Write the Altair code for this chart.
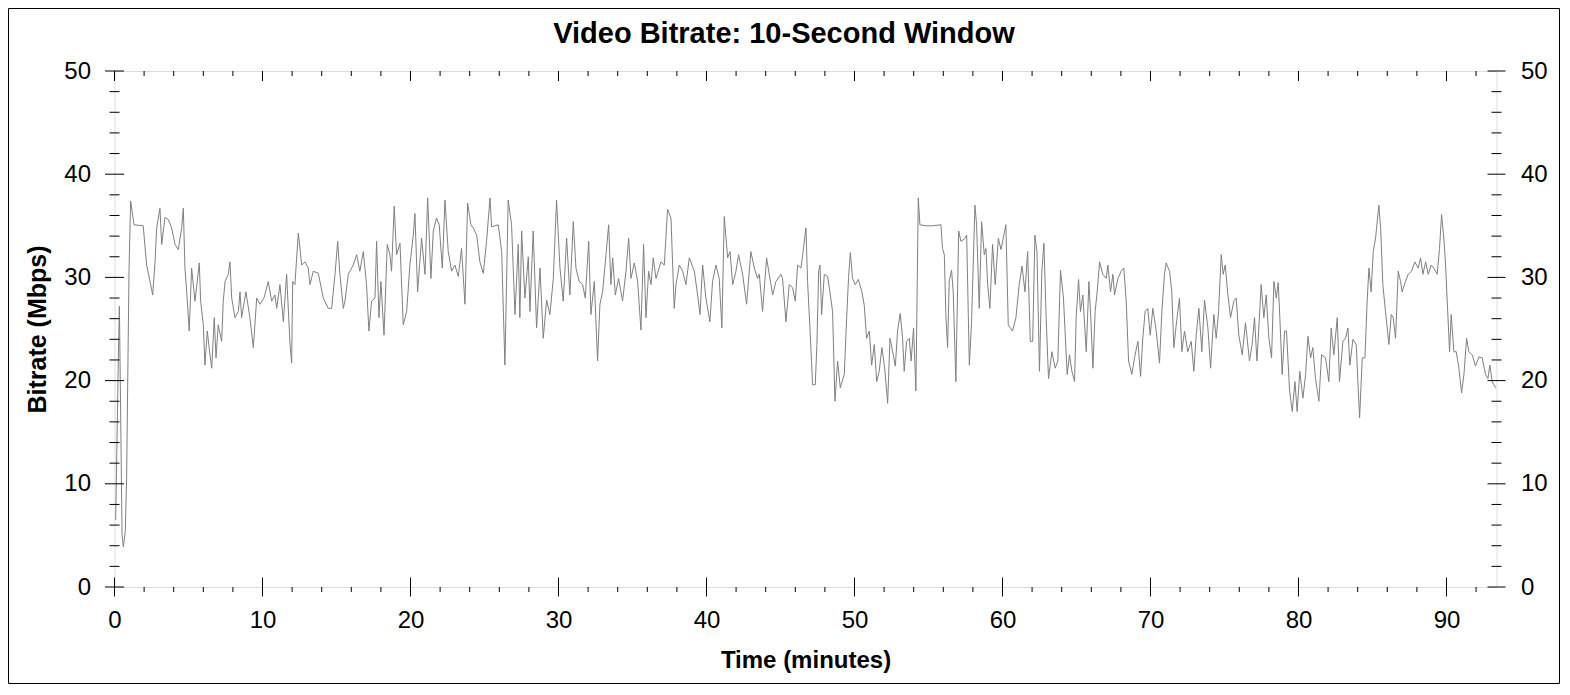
import altair as alt
import pandas as pd

# ---- data (time in minutes, bitrate in Mbps) ----
times = [
    0.08, 0.26, 0.33, 0.42, 0.51, 0.6, 0.73, 0.82, 0.89, 0.98, 1.09, 1.32, 1.94, 2.17, 2.4, 2.58,
    2.74, 2.85, 3.07, 3.19, 3.41, 3.64, 3.86, 4.09, 4.31, 4.54, 4.65, 4.76, 4.88, 5.05, 5.21, 5.44,
    5.73, 5.82, 6.0, 6.11, 6.27, 6.45, 6.57, 6.74, 6.86, 7.01, 7.24, 7.35, 7.47, 7.69, 7.8, 7.92,
    8.14, 8.37, 8.48, 8.59, 8.88, 9.15, 9.38, 9.61, 9.83, 10.1, 10.39, 10.62, 10.84, 10.96, 11.18,
    11.41, 11.63, 11.86, 11.97, 12.04, 12.19, 12.42, 12.65, 12.87, 13.09, 13.21, 13.43, 13.77,
    14.11, 14.45, 14.67, 14.9, 15.08, 15.23, 15.46,
    15.57, 15.8, 16.13, 16.36, 16.58, 16.81, 17.03, 17.19, 17.37, 17.6, 17.71, 17.87, 18.0, 18.21,
    18.43, 18.61, 18.72, 18.9, 19.06, 19.29, 19.51, 19.74, 19.96, 20.19, 20.3, 20.48, 20.75, 20.98,
    21.16, 21.38, 21.54, 21.76, 21.94, 22.15, 22.33, 22.55, 22.78, 23.0, 23.23, 23.45, 23.68, 23.86,
    24.08, 24.24, 24.47, 24.69, 24.92, 25.14, 25.37, 25.48, 25.93, 26.16, 26.38, 26.6, 26.83, 27.06,
    27.28, 27.39, 27.51, 27.73, 27.96, 28.07, 28.29, 28.52, 28.75, 28.97, 29.2, 29.42, 29.65, 29.87,
    30.1, 30.32, 30.55, 30.77, 31.0,
    31.18, 31.4, 31.63, 31.81, 32.04, 32.19, 32.42, 32.64, 32.8, 32.98, 33.21, 33.39, 33.54, 33.66,
    33.84, 34.06, 34.33, 34.56, 34.74, 34.9, 35.12, 35.35, 35.57, 35.75, 35.91, 36.09, 36.25, 36.4,
    36.59, 36.92, 37.15, 37.37, 37.6, 37.82, 37.94, 38.16, 38.39, 38.61, 38.84, 39.18, 39.4, 39.56,
    39.74, 39.96, 40.23, 40.41, 40.64, 40.86, 41.04, 41.2, 41.43, 41.59, 41.77, 41.99, 42.17, 42.44,
    42.71, 43.0, 43.23, 43.45, 43.57, 43.79, 44.06, 44.24, 44.47, 44.69, 45.03, 45.14, 45.37, 45.59,
    45.82, 46.0, 46.16, 46.38, 46.5, 46.72,
    46.83, 46.99, 47.17, 47.35, 47.46, 47.58, 47.67, 47.78, 47.96, 48.18, 48.34, 48.52, 48.68, 48.86,
    49.04, 49.31, 49.47, 49.6, 49.72, 49.87, 50.05, 50.26, 50.5, 50.66, 50.82, 51.0, 51.16, 51.34,
    51.5, 51.67, 51.85, 52.04, 52.24, 52.4, 52.58, 52.76, 52.91, 53.09, 53.25, 53.36, 53.52, 53.7,
    53.83, 53.99, 54.15, 54.31, 54.42, 54.83, 55.28, 55.84, 55.95, 56.07, 56.18, 56.29, 56.4, 56.56,
    56.67, 56.85, 57.04, 57.19, 57.42, 57.58, 57.76, 57.91, 58.14, 58.25, 58.43, 58.59, 58.77, 58.88,
    59.0, 59.15, 59.33, 59.51, 59.72, 59.9, 60.23, 60.39, 60.68, 60.91, 61.13, 61.32, 61.52, 61.7,
    61.88, 62.04, 62.19, 62.33,
    62.5, 62.66, 62.8, 62.95, 63.11, 63.34, 63.56, 63.74, 63.92, 64.12, 64.37, 64.53, 64.69, 64.87,
    64.98, 65.14, 65.27, 65.43, 65.66, 65.84, 65.99, 66.11, 66.26, 66.4, 66.56, 66.78, 67.01, 67.12,
    67.3, 67.46, 67.57, 67.8, 68.02, 68.2, 68.36, 68.52, 68.74, 68.92, 69.15, 69.33, 69.48, 69.64,
    69.82, 69.98, 70.16, 70.39, 70.61, 70.77, 70.95, 71.06, 71.29, 71.44, 71.58, 71.74, 71.96, 72.12,
    72.3, 72.52, 72.75, 72.93, 73.09, 73.27, 73.47, 73.65, 73.88, 74.06, 74.28, 74.44, 74.6, 74.78,
    74.91, 75.05, 75.23, 75.41, 75.63, 75.79, 75.97, 76.2, 76.42, 76.69, 76.87, 77.03, 77.19, 77.32,
    77.48, 77.66, 77.82, 78.0,
    78.18, 78.34, 78.5, 78.63, 78.74, 78.9, 79.06, 79.19, 79.4, 79.58, 79.76, 79.91, 80.09, 80.3,
    80.48, 80.64, 80.82, 80.97, 81.15, 81.38, 81.56, 81.83, 82.05, 82.21, 82.39, 82.62, 82.77, 83.0,
    83.18, 83.34, 83.47, 83.68, 83.9, 84.13, 84.31, 84.49, 84.64, 84.76, 84.91, 85.05, 85.21, 85.43,
    85.55, 85.7, 85.88, 86.11, 86.27, 86.4, 86.56, 86.74, 86.9, 87.0, 87.23, 87.41, 87.64, 87.86,
    88.09, 88.25, 88.41, 88.59, 88.77, 88.97, 89.15, 89.37, 89.53, 89.67, 89.82, 89.94, 90.05, 90.21,
    90.32, 90.5, 90.66, 90.84, 91.02, 91.18, 91.36, 91.51, 91.74, 91.96, 92.19, 92.41, 92.64, 92.8,
    92.93, 93.09, 93.32,
]

bitrate = [
    6.5, 22.2, 27.2, 16.4, 5.1, 3.9, 5.4, 10.6, 19.6, 30.6, 37.4, 35.1, 35.0, 31.2, 29.6, 28.3,
    31.5, 34.8, 36.7, 33.2, 35.8, 35.6, 34.8, 33.2, 32.7, 34.8, 36.7, 30.9, 28.6, 24.8, 30.9, 27.7,
    31.4, 27.7, 25.4, 21.5, 24.8, 22.5, 21.2, 26.1, 22.2, 25.4, 23.8, 27.7, 29.6, 30.3, 31.5, 28.0,
    26.1, 26.7, 28.6, 26.1, 28.6, 26.1, 23.2, 28.0, 27.4, 28.0, 29.6, 27.7, 28.3, 27.0, 29.3,
    25.7, 30.3, 23.5, 21.7, 29.6, 29.3, 34.3, 31.2, 31.5, 30.9, 29.3, 30.6, 30.4,
    28.0, 27.0, 27.0, 30.3, 33.5, 30.3, 27.0,
    27.7, 30.3, 31.2, 32.2, 30.6, 32.5, 29.3, 24.8, 27.7, 28.0, 33.5, 26.1, 29.6, 24.4,
    33.2, 32.2, 30.6, 36.9, 32.2, 33.3, 25.4, 26.7, 31.2, 34.1, 36.2, 28.6, 33.8, 30.3,
    37.7, 29.9, 34.5, 35.75, 35.1, 30.9, 37.5, 32.5, 30.6, 31.2, 30.1, 32.8, 27.4, 37.2,
    35.1, 34.8, 34.1, 31.5, 30.4, 33.5, 37.7, 34.9, 35.1, 32.5, 21.5, 37.5, 35.1, 26.4,
    33.2, 26.1, 34.5, 28.0, 32.0, 26.7, 34.5, 25.1, 30.9, 24.1, 27.8, 26.4, 29.9, 37.5,
    30.9, 27.7, 33.8, 28.3, 35.4,
    30.9, 29.6, 29.3, 28.0, 33.5, 26.4, 29.6, 21.9, 27.4, 28.6, 32.2, 35.1, 29.3, 31.9,
    28.3, 29.9, 27.7, 30.6, 33.8, 29.9, 31.4, 29.6, 24.9, 33.2, 26.1, 30.6, 29.3, 31.9,
    29.9, 31.5, 31.2, 36.6, 35.75, 27.0, 29.3, 31.2, 30.6, 29.3, 31.9, 30.6, 28.3, 26.4,
    31.2, 28.0, 25.7, 29.6, 31.2, 29.9, 25.1, 35.9, 31.9, 32.5, 29.3, 30.6, 32.2, 30.3,
    27.4, 32.5, 30.9, 29.9, 30.3, 26.7, 31.9, 30.3, 28.3, 29.6, 30.3, 29.9, 25.7, 29.3,
    29.0, 27.7, 31.2, 30.9, 32.2, 34.8,
    29.6, 25.1, 19.6, 19.6, 23.5, 30.6, 31.2, 26.4, 30.3, 30.1, 28.6, 26.7, 18.0, 21.9,
    19.3, 20.6, 26.1, 30.0, 32.4, 29.9, 29.3, 29.8, 28.6, 27.3, 24.1, 24.8, 21.5, 23.5,
    19.9, 20.9, 23.2, 21.2, 17.8, 24.1, 22.8, 21.4, 24.8, 26.5, 24.1, 20.9, 23.8, 24.1,
    21.9, 25.1, 19.0, 37.7, 35.1, 35.0, 35.0, 35.1, 32.8, 32.2, 26.1, 23.2, 29.6, 30.7,
    28.6, 19.9, 34.5, 33.5, 33.7, 34.1, 21.5, 25.7, 37.0, 35.1, 27.0, 35.4, 32.2, 32.8,
    29.3, 27.0, 33.2, 29.3, 33.8, 32.7, 35.1, 25.4, 24.8, 26.1, 29.3, 31.1, 28.6, 32.5,
    23.8, 23.8, 34.1, 32.5,
    20.9, 30.6, 33.3, 26.1, 20.2, 22.8, 21.2, 21.9, 30.7, 28.0, 20.6, 22.5, 20.9, 19.9,
    26.1, 29.8, 26.7, 28.3, 22.8, 29.6, 25.4, 21.2, 26.7, 28.6, 31.5, 30.3, 29.9, 31.2,
    28.6, 30.3, 28.3, 29.9, 30.6, 30.9, 27.7, 21.9, 20.6, 22.2, 23.8, 20.4, 24.1, 26.7,
    27.0, 24.4, 27.0, 24.8, 21.7, 26.7, 30.4, 31.4, 30.6, 28.6, 23.2, 25.4, 28.0, 22.8,
    24.8, 22.8, 23.8, 20.9, 24.4, 27.0, 22.8, 27.8, 25.1, 21.2, 26.4, 24.1, 26.7, 32.2,
    30.3, 31.2, 28.3, 26.1, 27.7, 28.0, 24.4, 22.5, 25.6, 21.9, 23.5, 26.1, 21.9, 25.1,
    29.3, 26.1, 28.3, 24.1,
    22.2, 29.6, 28.0, 29.5, 26.1, 20.6, 24.8, 24.8, 19.0, 17.0, 19.9, 17.0, 20.9, 18.3,
    20.6, 24.3, 22.2, 23.2, 20.2, 18.0, 22.5, 22.2, 19.9, 25.1, 22.5, 26.1, 19.9, 23.8,
    24.1, 25.1, 21.5, 24.0, 23.5, 16.4, 22.2, 22.2, 27.7, 30.9, 28.6, 32.5, 33.8, 37.0,
    34.8, 29.3, 26.7, 23.5, 26.4, 26.1, 24.1, 30.6, 29.6, 28.6, 29.6, 30.3, 30.6, 31.5,
    30.9, 31.9, 30.3, 31.5, 30.3, 31.2, 30.9, 30.3, 32.8, 36.1, 33.8, 31.2, 27.7, 22.8,
    26.4, 22.8, 22.8, 21.2, 18.8, 20.6, 24.1, 22.8, 22.5, 21.4, 22.3, 22.2, 20.6, 20.2,
    21.5, 19.9, 19.3,
]

title_text = "Video Bitrate: 10-Second Window"
x_title = "Time (minutes)"
y_title = "Bitrate (Mbps)"
x_major = [0, 10, 20, 30, 40, 50, 60, 70, 80, 90]
x_minor = [m for m in range(2, 93, 2) if m % 10 != 0]
y_major = [0, 10, 20, 30, 40, 50]
y_minor = [m for m in range(2, 50, 2) if m % 10 != 0]

FONT = "Liberation Sans"
W, H = 1382, 516
PAD_L, PAD_T, PAD_R, PAD_B = 106.5, 63, 63.5, 97

df = pd.DataFrame({"t": times, "v": bitrate})
xs = alt.Scale(domain=[0, 93.38], nice=False, zero=False)
ys = alt.Scale(domain=[0, 50], nice=False, zero=False)

line = alt.Chart(df).mark_line(color="#808080", strokeWidth=1).encode(
    x=alt.X("t:Q", scale=xs, axis=alt.Axis(
        values=x_major, title=x_title, ticks=False, tickSize=0, domain=False,
        grid=False, labelFontSize=24, labelFont=FONT, labelColor="black", labelPadding=21,
        labelFlush=False, labelOverlap=False,
        titleFont=FONT, titleFontSize=24, titleFontWeight="bold", titleColor="black",
        titleX=W / 2, titleY=80, titleBaseline="alphabetic")),
    y=alt.Y("v:Q", scale=ys, axis=alt.Axis(
        values=y_major, title=y_title, ticks=False, tickSize=0, domain=False,
        grid=False, labelFontSize=24, labelFont=FONT, labelColor="black", labelPadding=24,
        titleFont=FONT, titleFontSize=25, titleFontWeight="bold", titleColor="black",
        titleX=-69.5, titleY=H / 2, titleBaseline="alphabetic", titleAngle=270,
        titleAlign="center")),
)

xmaj = pd.DataFrame({"t": x_major})
xmin = pd.DataFrame({"t": x_minor})
ymaj = pd.DataFrame({"v": y_major})
ymin = pd.DataFrame({"v": y_minor})


def xrule(d, y1, y2):
    return alt.Chart(d).mark_rule(color="black", strokeWidth=1).encode(
        x=alt.X("t:Q", scale=xs, axis=None), y=alt.value(y1), y2=alt.value(y2))


def yrule(d, x1, x2, axis=None):
    return alt.Chart(d).mark_rule(color="black", strokeWidth=1).encode(
        y=alt.Y("v:Q", scale=ys, axis=axis), x=alt.value(x1), x2=alt.value(x2))


right_axis = alt.Axis(orient="right", values=y_major, title=None, ticks=False, tickSize=0,
                      domain=False, grid=False, labelFontSize=24, labelFont=FONT,
                      labelColor="black", labelPadding=24)

ticks = [
    xrule(xmaj, H - 9.5, H + 9.5),
    xrule(xmaj, 0, 10),
    xrule(xmin, H, H + 5),
    xrule(xmin, 0, 5),
    yrule(ymaj, -9.5, 9.5),
    yrule(ymaj, W - 9, W + 9, right_axis),
    yrule(ymin, -5, 5),
    yrule(ymin, W - 5, W + 5),
]

one = pd.DataFrame({"f": [0]})

frame = alt.Chart(one).mark_rect(
    filled=False, stroke="black", strokeWidth=1).encode(
    x=alt.value(-PAD_L + 0.5), x2=alt.value(W + PAD_R - 0.5),
    y=alt.value(-PAD_T + 0.5), y2=alt.value(H + PAD_B - 0.5))

title = alt.Chart(one).mark_text(
    font=FONT, fontSize=29, fontWeight="bold", color="black",
    align="center", baseline="alphabetic").encode(
    x=alt.value(669.5), y=alt.value(-28), text=alt.value(title_text))

chart = alt.layer(frame, title, line, *ticks).resolve_axis(
    x="independent", y="independent").properties(
    width=W, height=H,
    padding={"left": PAD_L, "top": PAD_T, "right": PAD_R, "bottom": PAD_B},
    autosize=alt.AutoSizeParams(type="none"),
).configure_view(stroke="black", strokeWidth=1).configure(background="white")

chart.save("out.html", embed_options={"renderer": "svg", "actions": False})
